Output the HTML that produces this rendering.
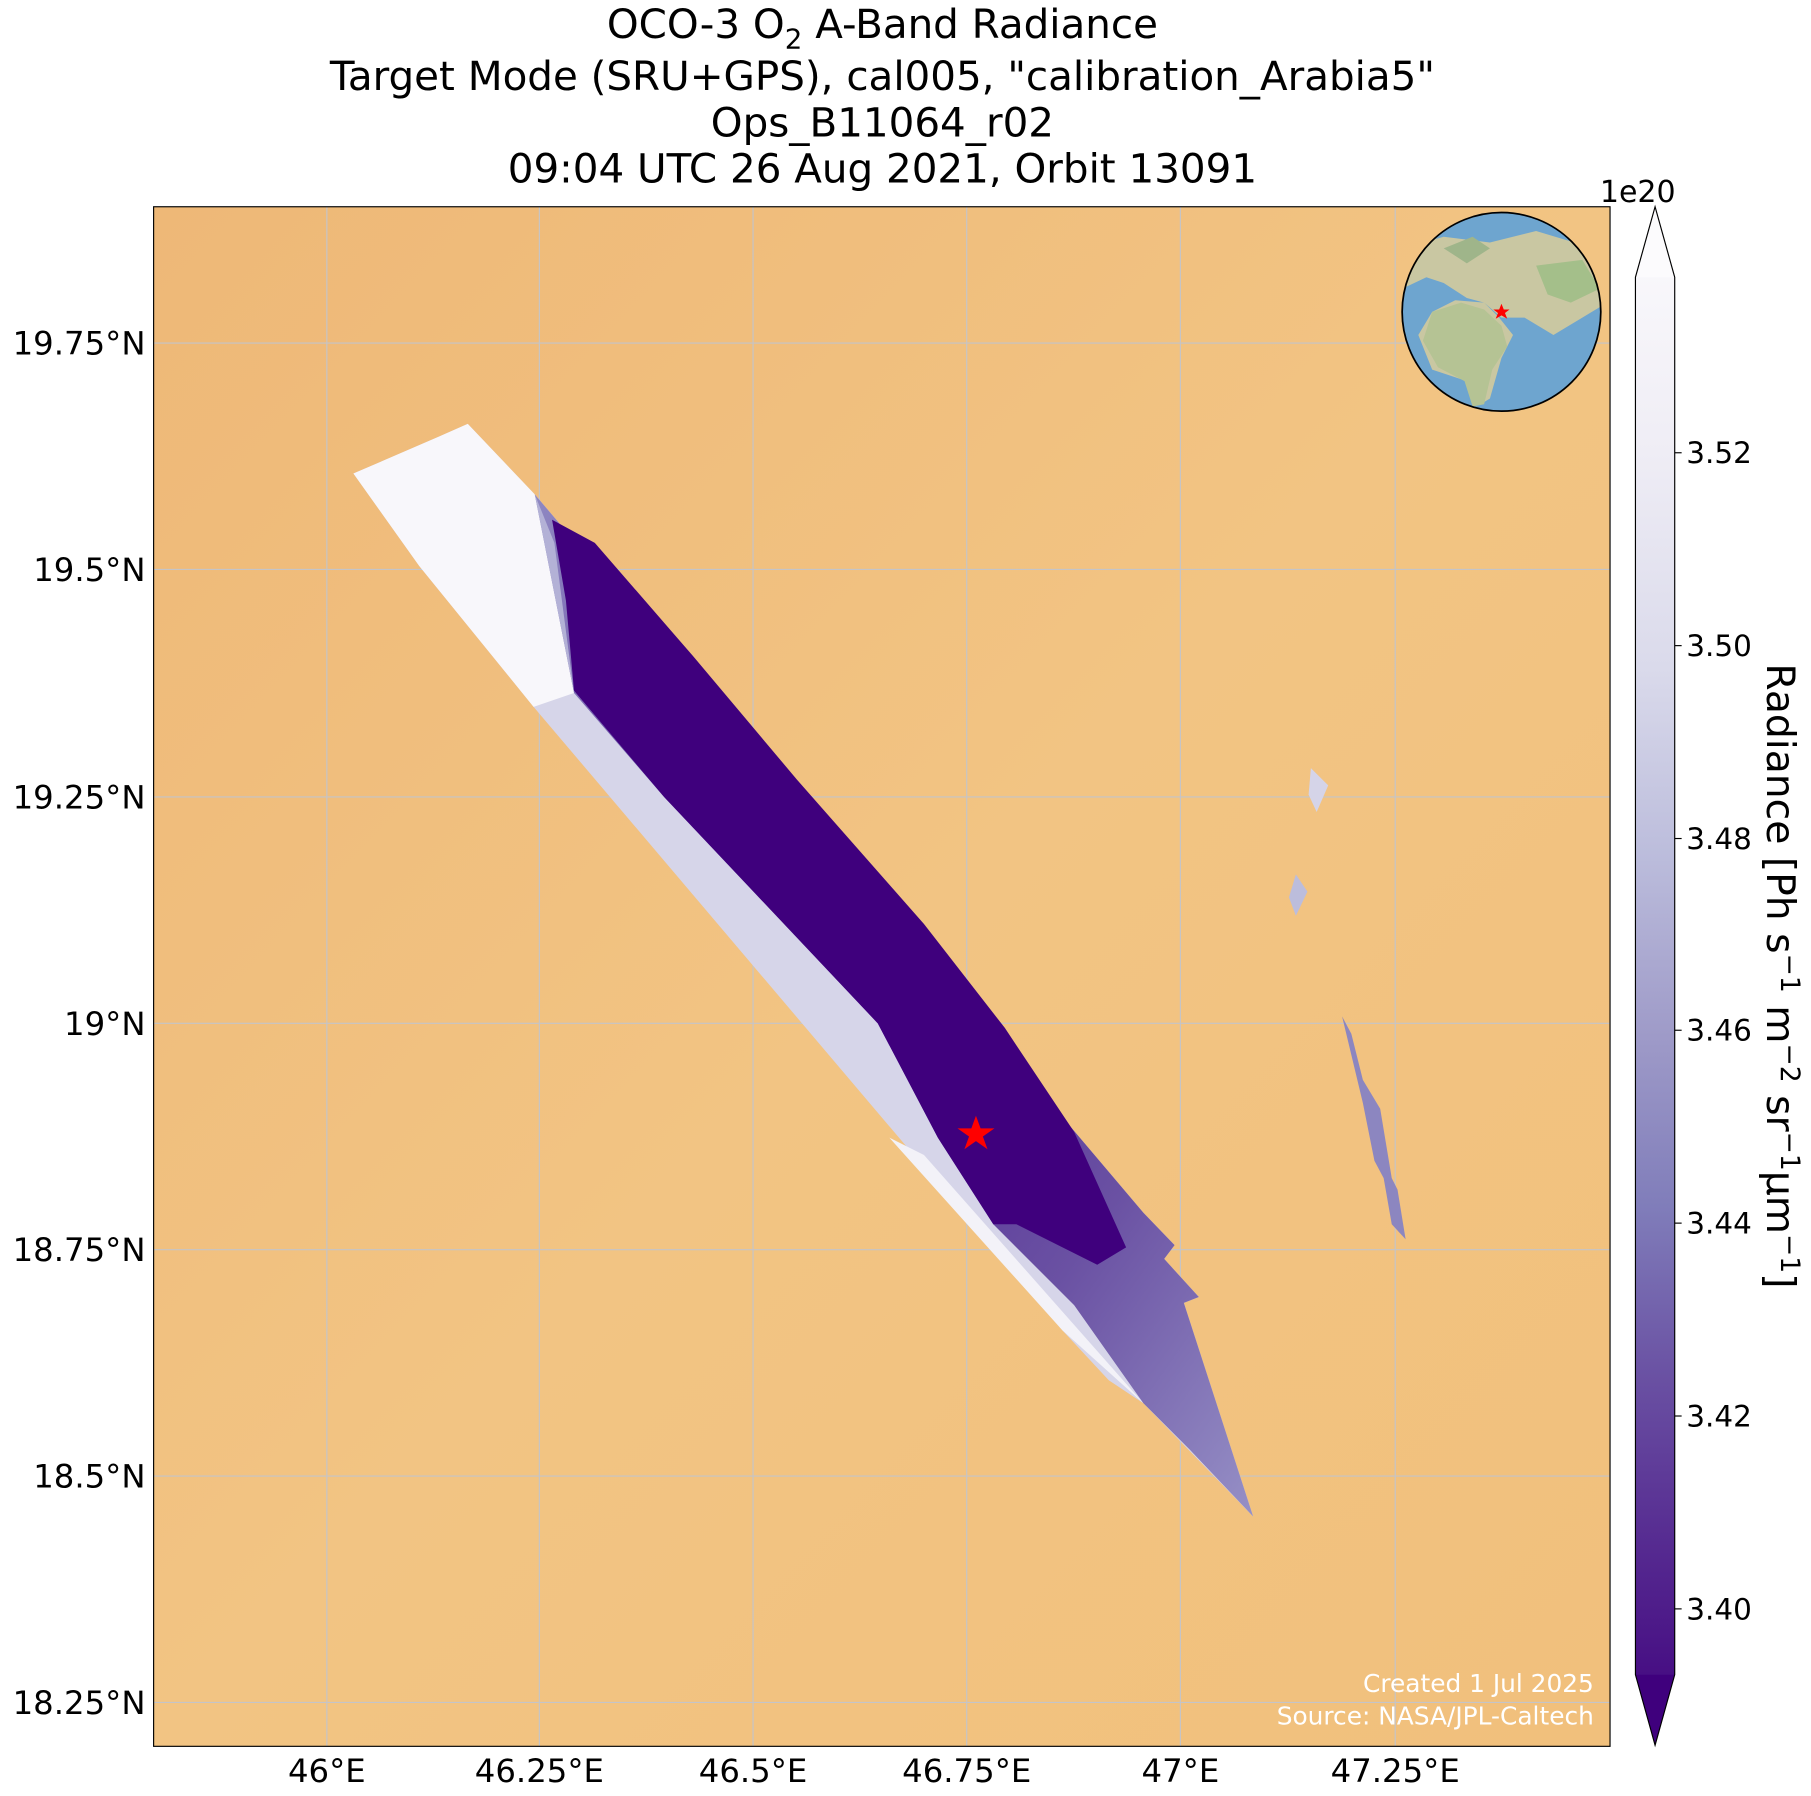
<!DOCTYPE html>
<html><head><meta charset="utf-8"><style>
html,body{margin:0;padding:0;background:#fff}
svg{display:block}
text{font-family:"DejaVu Sans","Liberation Sans",sans-serif}
</style></head><body>
<svg width="1811" height="1796" viewBox="0 0 1568 1555" xmlns="http://www.w3.org/2000/svg">
<defs>
<linearGradient id="sand" x1="0" y1="0" x2="1" y2="1">
<stop offset="0" stop-color="#eeb877"/><stop offset="0.5" stop-color="#f2c483"/><stop offset="1" stop-color="#f1c07c"/>
</linearGradient>
<linearGradient id="cb" x1="0" y1="0" x2="0" y2="1">
<stop offset="0" stop-color="#fcfbfd"/><stop offset="0.16" stop-color="#efedf5"/><stop offset="0.3" stop-color="#dadaeb"/>
<stop offset="0.42" stop-color="#bcbddc"/><stop offset="0.54" stop-color="#9e9ac8"/><stop offset="0.65" stop-color="#807dba"/>
<stop offset="0.76" stop-color="#6a51a3"/><stop offset="0.88" stop-color="#54278f"/><stop offset="1" stop-color="#3f007d"/>
</linearGradient>
<linearGradient id="mid" x1="0" y1="0" x2="1" y2="1">
<stop offset="0" stop-color="#8f88c2"/><stop offset="0.45" stop-color="#4f2491"/><stop offset="0.75" stop-color="#6a51a3"/><stop offset="1" stop-color="#9690c6"/>
</linearGradient>
<clipPath id="globe"><circle cx="1300" cy="270" r="86"/></clipPath>
</defs>
<text x="764" y="33" font-size="35" text-anchor="middle">OCO-3 O<tspan font-size="24" dy="9">2</tspan><tspan dy="-9"> A-Band Radiance</tspan></text>
<text x="764" y="78" font-size="35" text-anchor="middle">Target Mode (SRU+GPS), cal005, "calibration_Arabia5"</text>
<text x="764" y="118" font-size="35" text-anchor="middle">Ops_B11064_r02</text>
<text x="764" y="158" font-size="35" text-anchor="middle">09:04 UTC 26 Aug 2021, Orbit 13091</text>
<rect x="133" y="179" width="1261" height="1333" fill="url(#sand)"/>
<g stroke="#c4c4c8" stroke-width="1">
<line x1="283" y1="179" x2="283" y2="1512"/><line x1="467" y1="179" x2="467" y2="1512"/>
<line x1="652" y1="179" x2="652" y2="1512"/><line x1="837" y1="179" x2="837" y2="1512"/>
<line x1="1022" y1="179" x2="1022" y2="1512"/><line x1="1208" y1="179" x2="1208" y2="1512"/>
<line x1="133" y1="297" x2="1394" y2="297"/><line x1="133" y1="493" x2="1394" y2="493"/>
<line x1="133" y1="690" x2="1394" y2="690"/><line x1="133" y1="886" x2="1394" y2="886"/>
<line x1="133" y1="1082" x2="1394" y2="1082"/><line x1="133" y1="1278" x2="1394" y2="1278"/>
<line x1="133" y1="1474" x2="1394" y2="1474"/>
</g>
<!-- swath -->
<polygon points="306,410 380,378 405,367 463,428 990,1050 1017,1078 1008,1090 1038,1123 1025,1128 1085,1313 990,1215 960,1195 920,1152 462,612 363,490" fill="#d6d5e9"/>
<polygon points="306,410 380,378 405,367 463,428 497,600 462,612 363,490" fill="#f8f7fb"/>
<polygon points="800,1000 990,1215 920,1152 770,985" fill="#f3f2f8"/>
<polygon points="463,428 990,1050 1017,1078 1008,1090 1038,1123 1025,1128 1085,1313 1030,1255 990,1215 930,1130 860,1060 812,985 760,886 575,690 497,600" fill="url(#mid)"/>
<polygon points="463,428 497,600 480,470" fill="#b3b1d6"/>
<polygon points="478,450 515,470 600,568 690,675 800,800 870,890 930,980 975,1080 950,1095 880,1060 860,1060 812,985 760,886 575,690 497,598 490,520" fill="#3f007d"/>
<polygon points="1135,665 1150,680 1140,703 1133,688" fill="#d5d4e8"/>
<polygon points="1122,757 1132,772 1122,793 1116,777" fill="#bcbddc"/>
<polygon points="1162,880 1170,895 1180,935 1195,960 1205,1020 1210,1030 1217,1073 1205,1060 1198,1020 1190,1005 1180,955" fill="#8c86c0"/>
<polygon points="845,966 849,977 861,977 851,984 855,995 845,988 835,995 839,984 829,977 841,977" fill="#ff0000"/>
<!-- globe -->
<circle cx="1300" cy="270" r="86" fill="#6ea5cf"/>
<g clip-path="url(#globe)">
<path d="M1214,215 L1250,205 L1290,210 L1330,200 L1380,215 L1395,260 L1370,275 L1345,290 L1320,275 L1300,275 L1285,262 L1260,260 L1240,270 L1228,290 L1240,320 L1270,330 L1282,350 L1290,345 L1300,310 L1310,290 L1298,275 L1285,262 L1270,258 L1250,245 L1235,240 L1214,250 Z" fill="#c9c7a2"/>
<path d="M1240,270 L1265,262 L1285,268 L1300,282 L1305,300 L1292,320 L1285,350 L1275,352 L1268,330 L1245,318 L1232,295 Z" fill="#b5c394"/>
<path d="M1330,230 L1370,225 L1385,250 L1360,262 L1340,255 Z" fill="#a4bf8a"/>
<path d="M1250,215 L1275,205 L1290,215 L1270,228 Z" fill="#9fb58a"/>
</g>
<circle cx="1300" cy="270" r="86" fill="none" stroke="#000" stroke-width="1.5"/>
<polygon points="1300,263 1302,268 1307,268 1303,271 1305,276 1300,273 1295,276 1297,271 1293,268 1298,268" fill="#ff0000"/>
<text x="1380" y="1465" font-size="21.5" fill="#fff" text-anchor="end">Created 1 Jul 2025</text>
<text x="1380" y="1493" font-size="21.5" fill="#fff" text-anchor="end">Source: NASA/JPL-Caltech</text>
<rect x="133" y="179" width="1261" height="1333" fill="none" stroke="#000" stroke-width="1"/>
<!-- axis labels -->
<g font-size="28" fill="#000">
<g text-anchor="end">
<text x="126" y="307">19.75°N</text><text x="126" y="503">19.5°N</text><text x="126" y="700">19.25°N</text>
<text x="126" y="896">19°N</text><text x="126" y="1092">18.75°N</text><text x="126" y="1288">18.5°N</text><text x="126" y="1484">18.25°N</text>
</g>
<g text-anchor="middle">
<text x="283" y="1543">46°E</text><text x="467" y="1543">46.25°E</text><text x="652" y="1543">46.5°E</text>
<text x="837" y="1543">46.75°E</text><text x="1022" y="1543">47°E</text><text x="1208" y="1543">47.25°E</text>
</g>
</g>
<!-- colorbar -->
<polygon points="1416,240 1433,179 1450,240 1450,1450 1433,1511 1416,1450" fill="url(#cb)"/>
<polygon points="1416,1450 1450,1450 1433,1511" fill="#3f007d"/>
<polygon points="1416,240 1450,240 1433,179" fill="#fcfbfd"/>
<polygon points="1416,240 1433,179 1450,240 1450,1450 1433,1511 1416,1450" fill="none" stroke="#000" stroke-width="1"/>
<text x="1418" y="175" font-size="26" text-anchor="middle">1e20</text>
<g font-size="25.5">
<line x1="1450" y1="392" x2="1456" y2="392" stroke="#000"/><text x="1460" y="401">3.52</text>
<line x1="1450" y1="559" x2="1456" y2="559" stroke="#000"/><text x="1460" y="568">3.50</text>
<line x1="1450" y1="726" x2="1456" y2="726" stroke="#000"/><text x="1460" y="735">3.48</text>
<line x1="1450" y1="892" x2="1456" y2="892" stroke="#000"/><text x="1460" y="901">3.46</text>
<line x1="1450" y1="1059" x2="1456" y2="1059" stroke="#000"/><text x="1460" y="1068">3.44</text>
<line x1="1450" y1="1226" x2="1456" y2="1226" stroke="#000"/><text x="1460" y="1235">3.42</text>
<line x1="1450" y1="1393" x2="1456" y2="1393" stroke="#000"/><text x="1460" y="1402">3.40</text>
</g>
<text transform="translate(1530,845) rotate(90)" font-size="34" text-anchor="middle">Radiance [Ph s<tspan font-size="23" dy="-12">−1</tspan><tspan dy="12"> m</tspan><tspan font-size="23" dy="-12">−2</tspan><tspan dy="12"> sr</tspan><tspan font-size="23" dy="-12">−1</tspan><tspan dy="12">μm</tspan><tspan font-size="23" dy="-12">−1</tspan><tspan dy="12">]</tspan></text>
</svg>
</body></html>
